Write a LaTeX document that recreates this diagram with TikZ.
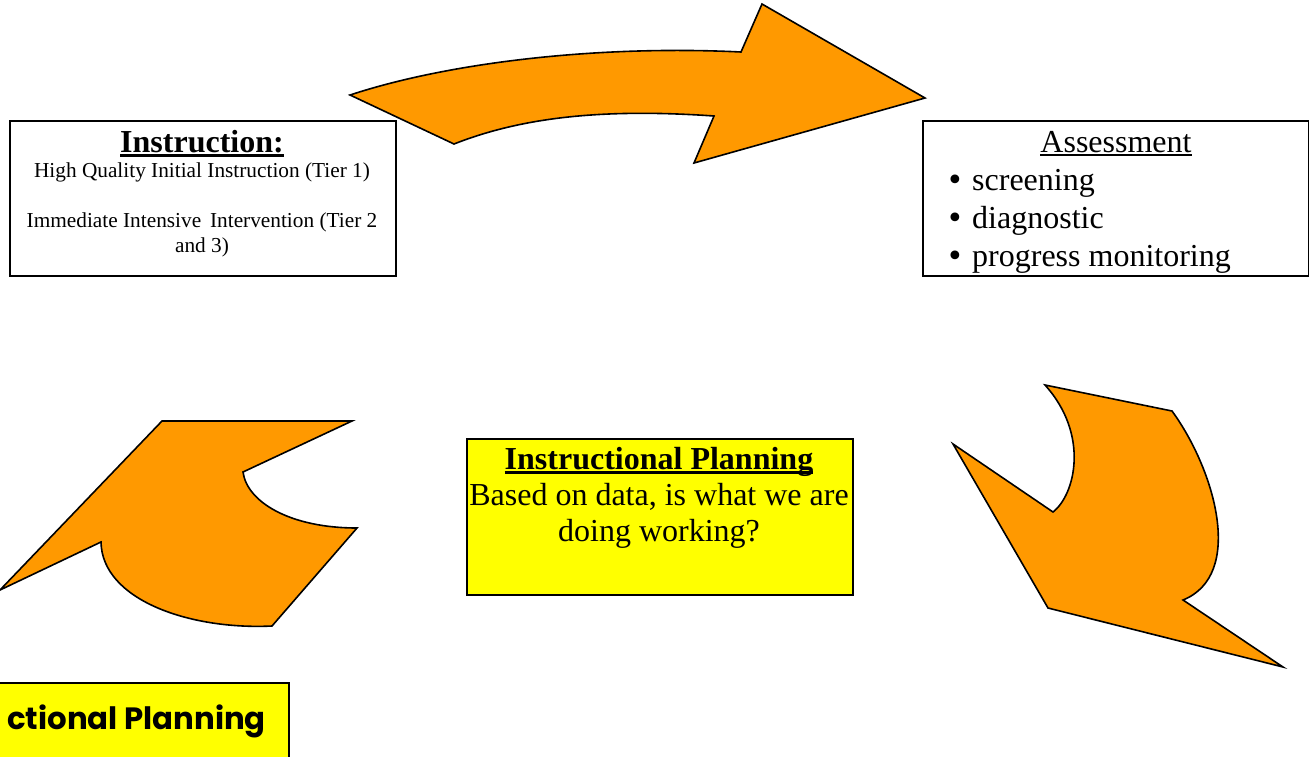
\documentclass[tikz,border=0pt]{standalone}
\usepackage{fontspec}
\setmainfont{Liberation Serif}
\newfontfamily\gothicfont{Poppins}
\newfontfamily\symfont{DejaVu Sans}
\definecolor{arroworange}{RGB}{255,153,0}
\definecolor{boxyellow}{RGB}{255,255,0}
\newcommand{\ulthick}[1]{\setbox0=\hbox{#1}\rlap{\rule[-4.5pt]{\wd0}{2.2pt}}\box0}
\newcommand{\ulthin}[1]{\setbox0=\hbox{#1}\rlap{\rule[-4pt]{\wd0}{1.6pt}}\box0}
\begin{document}
\begin{tikzpicture}[x=1pt,y=-1pt,
  box/.style={draw=black, line width=1.5pt, rectangle, inner sep=0pt, anchor=north west},
  arrowshape/.style={draw=black, line width=1.6pt, fill=arroworange, line join=miter},
  txt/.style={inner sep=0pt, anchor=base},
  bigbold/.style={font=\fontsize{32}{38}\selectfont\bfseries},
  big/.style={font=\fontsize{32}{38}\selectfont},
  small/.style={font=\fontsize{21.3}{25}\selectfont},
  bulletmark/.style={inner sep=0pt, anchor=base west, font=\symfont\fontsize{30}{36}\selectfont}
]
\useasboundingbox (0,0) rectangle (1309,756);

% top arrow
\draw[arrowshape] (350,95) .. controls (450,62) and (600,45) .. (741,52)
  -- (762,4) -- (925,98) -- (694,163) -- (714,116)
  .. controls (600,108) and (520,118) .. (454,144) -- cycle;

% left arrow
\draw[arrowshape] (162,421) -- (352,421) -- (243,472)
  .. controls (247,502) and (290,528) .. (357,528)
  -- (272,626) .. controls (190,630) and (102,600) .. (101,542)
  -- (0,590) -- cycle;

% right arrow
\draw[arrowshape] (1045,385) -- (1172,411)
  .. controls (1215,470) and (1245,575) .. (1183,600)
  -- (1283,667) -- (1048,608) -- (953,444) -- (1053,512)
  .. controls (1075,495) and (1090,435) .. (1045,385) -- cycle;

% Instruction box
\node[box, minimum width=386pt, minimum height=155pt] (instr) at (9,120) {};
\node[txt, bigbold] (instrtitle) at (202,152) {\ulthick{Instruction:}};
\node[txt, small] (tier1) at (202,177) {High Quality Initial Instruction (Tier 1)};
\node[txt, small] (tier2) at (202,227) {Immediate Intensive\, Intervention (Tier 2};
\node[txt, small] (tier3) at (202,252) {and 3)};

% Assessment box
\node[box, minimum width=386pt, minimum height=155pt] (assess) at (922,120) {};
\begin{scope}
\clip (922,120) rectangle (1308,275);
\node[txt, big] (assesstitle) at (1116,152) {\ulthin{Assessment}};
\node[bulletmark] (m1) at (946,190) {•};
\node[bulletmark] (m2) at (946,228) {•};
\node[bulletmark] (m3) at (946,266) {•};
\node[txt, big, anchor=base west] (b1) at (972,190) {screening};
\node[txt, big, anchor=base west] (b2) at (972,228) {diagnostic};
\node[txt, big, anchor=base west] (b3) at (972,266) {progress monitoring};
\end{scope}

% centre box
\node[box, fill=boxyellow, minimum width=386pt, minimum height=156pt] (plan) at (466,438) {};
\node[txt, bigbold] (plantitle) at (659,469) {\ulthick{Instructional Planning}};
\node[txt, big] (plan1) at (659,505) {Based on data, is what we are};
\node[txt, big] (plan2) at (659,541) {doing working?};

% bottom-left box
\node[box, fill=boxyellow, minimum width=310pt, minimum height=100pt] (plan2box) at (-22,682) {};
\node[txt, anchor=base east, font=\gothicfont\bfseries\fontsize{30.8}{36}\selectfont] (plan2title) at (266,729) {ctional Planning};
\end{tikzpicture}
\end{document}
